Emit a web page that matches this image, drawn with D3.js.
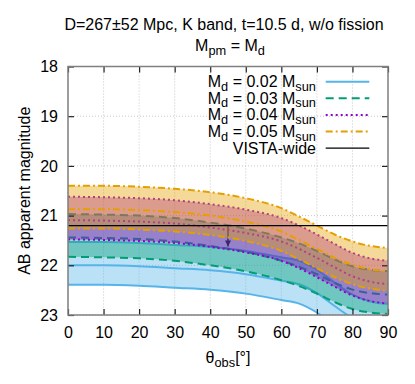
<!DOCTYPE html>
<html>
<head>
<meta charset="utf-8">
<script src="https://cdn.jsdelivr.net/npm/d3@7"></script>
<style>
  body { margin: 0; background: #fff; }
  svg text { font-family: "Liberation Sans", Arial, Helvetica, sans-serif; fill: #000; }
</style>
</head>
<body>
<div id="chart"></div>
<script>
// viewing angle (deg)
const theta = [0, 10, 20, 30, 40, 50, 60, 65, 70, 75, 80, 85, 90];

// AB magnitudes: bright edge (D=215), central (D=267), dim edge (D=319)
const md002Bright = [21.53, 21.53, 21.55, 21.59, 21.63, 21.71, 21.84, 21.91, 22.09, 22.35, 22.59, 22.73, 22.78];
const md002Mid    = [22.00, 22.00, 22.02, 22.06, 22.10, 22.18, 22.31, 22.38, 22.56, 22.82, 23.06, 23.20, 23.25];
const md002Dim    = [22.39, 22.39, 22.41, 22.45, 22.49, 22.57, 22.70, 22.77, 22.95, 23.21, 23.45, 23.59, 23.64];

const md003Bright = [20.97, 20.98, 21.00, 21.05, 21.14, 21.26, 21.44, 21.56, 21.71, 21.88, 22.02, 22.09, 22.12];
const md003Mid    = [21.44, 21.45, 21.47, 21.52, 21.61, 21.73, 21.91, 22.03, 22.18, 22.35, 22.49, 22.56, 22.59];
const md003Dim    = [21.83, 21.84, 21.86, 21.91, 22.00, 22.12, 22.30, 22.42, 22.57, 22.74, 22.88, 22.95, 22.98];

const md004Bright = [20.62, 20.63, 20.65, 20.69, 20.77, 20.88, 21.05, 21.20, 21.38, 21.57, 21.75, 21.86, 21.91];
const md004Mid    = [21.09, 21.10, 21.12, 21.16, 21.24, 21.35, 21.52, 21.67, 21.85, 22.04, 22.22, 22.33, 22.38];
const md004Dim    = [21.48, 21.49, 21.51, 21.55, 21.63, 21.74, 21.91, 22.06, 22.24, 22.43, 22.61, 22.72, 22.77];

const md005Bright = [20.40, 20.40, 20.42, 20.46, 20.53, 20.65, 20.85, 21.02, 21.20, 21.38, 21.52, 21.61, 21.65];
const md005Mid    = [20.87, 20.87, 20.89, 20.93, 21.00, 21.12, 21.32, 21.49, 21.67, 21.85, 21.99, 22.08, 22.12];
const md005Dim    = [21.26, 21.26, 21.28, 21.32, 21.39, 21.51, 21.71, 21.88, 22.06, 22.24, 22.38, 22.47, 22.51];

const vistaWide = 21.2;
// upper-limit arrow
const arrowTheta = 45;
const arrowFrom = 21.2;
const arrowTo = 21.62;

const xTicks = [0, 10, 20, 30, 40, 50, 60, 70, 80, 90];
const yTicks = [18, 19, 20, 21, 22, 23];

const models = [
  { md: "0.02", color: "#56b4e9", dash: null, bright: md002Bright, mid: md002Mid, dim: md002Dim },
  { md: "0.03", color: "#009e73", dash: "8,5", bright: md003Bright, mid: md003Mid, dim: md003Dim },
  { md: "0.04", color: "#9400d3", dash: "2,3", bright: md004Bright, mid: md004Mid, dim: md004Dim },
  { md: "0.05", color: "#e69f00", dash: "7,3,2,3", bright: md005Bright, mid: md005Mid, dim: md005Dim }
];

const W = 415, H = 384;
const margin = { top: 66.5, right: 27, bottom: 69, left: 68 };

const svg = d3.select("#chart").append("svg")
  .attr("width", W)
  .attr("height", H);

const x = d3.scaleLinear().domain([0, 90]).range([margin.left, W - margin.right]);
const y = d3.scaleLinear().domain([18, 23]).range([margin.top, H - margin.bottom]);

// grid
const grid = svg.append("g").attr("class", "grid");
grid.selectAll(".gx").data(xTicks).enter().append("line")
  .attr("x1", d => x(d)).attr("x2", d => x(d))
  .attr("y1", y(18)).attr("y2", y(23))
  .attr("stroke", "#b8b8b8").attr("stroke-width", 0.8).attr("stroke-dasharray", "1,2");
grid.selectAll(".gy").data(yTicks).enter().append("line")
  .attr("x1", x(0)).attr("x2", x(90))
  .attr("y1", d => y(d)).attr("y2", d => y(d))
  .attr("stroke", "#b8b8b8").attr("stroke-width", 0.8).attr("stroke-dasharray", "1,2");

svg.append("clipPath").attr("id", "clip")
  .append("rect")
  .attr("x", x(0)).attr("y", y(18))
  .attr("width", x(90) - x(0)).attr("height", y(23) - y(18));

const plot = svg.append("g").attr("clip-path", "url(#clip)");

// arrow drawn under the bands
svg.append("defs").append("marker")
  .attr("id", "head")
  .attr("viewBox", "0 0 10 10")
  .attr("refX", 10).attr("refY", 5)
  .attr("markerWidth", 4).attr("markerHeight", 4)
  .attr("orient", "auto")
  .append("path").attr("d", "M0,0L10,5L0,10Z").attr("fill", "#000");

plot.append("line")
  .attr("x1", x(arrowTheta)).attr("x2", x(arrowTheta))
  .attr("y1", y(arrowFrom)).attr("y2", y(arrowTo))
  .attr("stroke", "#000").attr("stroke-width", 1.5)
  .attr("marker-end", "url(#head)");

const area = (m) => d3.area()
  .x((d, i) => x(theta[i]))
  .y0((d, i) => y(m.bright[i]))
  .y1((d, i) => y(m.dim[i]))
  .curve(d3.curveMonotoneX);

const line = d3.line()
  .x((d, i) => x(theta[i]))
  .y(d => y(d))
  .curve(d3.curveMonotoneX);

models.forEach(m => {
  plot.append("path")
    .datum(theta)
    .attr("d", area(m))
    .attr("fill", m.color)
    .attr("fill-opacity", 0.4);

  [m.bright, m.mid, m.dim].forEach(s => {
    plot.append("path")
      .datum(s)
      .attr("d", line)
      .attr("fill", "none")
      .attr("stroke", m.color)
      .attr("stroke-width", 2)
      .attr("stroke-dasharray", m.dash);
  });
});

plot.append("line")
  .attr("x1", x(0)).attr("x2", x(90))
  .attr("y1", y(vistaWide)).attr("y2", y(vistaWide))
  .attr("stroke", "#000").attr("stroke-width", 1.3);

// axes with inward ticks
const tickStyle = g => {
  g.select(".domain").remove();
  g.selectAll(".tick line").attr("stroke", "#222").attr("stroke-width", 1.2);
  g.selectAll(".tick text").style("font-size", "16px").attr("fill", "#000");
};

svg.append("g")
  .attr("transform", `translate(0,${y(23)})`)
  .call(d3.axisBottom(x).tickValues(xTicks).tickSize(-6).tickPadding(11.5).tickFormat(d3.format("d")))
  .call(tickStyle);
svg.append("g")
  .attr("transform", `translate(0,${y(18)})`)
  .call(d3.axisTop(x).tickValues(xTicks).tickSize(-6).tickFormat(""))
  .call(tickStyle);
svg.append("g")
  .attr("transform", `translate(${x(0)},0)`)
  .call(d3.axisLeft(y).tickValues(yTicks).tickSize(-6).tickPadding(10).tickFormat(d3.format("d")))
  .call(tickStyle);
svg.append("g")
  .attr("transform", `translate(${x(90)},0)`)
  .call(d3.axisRight(y).tickValues(yTicks).tickSize(-6).tickFormat(""))
  .call(tickStyle);

svg.append("rect")
  .attr("x", x(0)).attr("y", y(18))
  .attr("width", x(90) - x(0)).attr("height", y(23) - y(18))
  .attr("fill", "none").attr("stroke", "#808080").attr("stroke-width", 1.5);

// title
svg.append("text")
  .attr("x", 224).attr("y", 30)
  .attr("text-anchor", "middle")
  .style("font-size", "16px")
  .text("D=267±52 Mpc, K band, t=10.5 d, w/o fission");

const t2 = svg.append("text")
  .attr("x", 230).attr("y", 50.5)
  .attr("text-anchor", "middle")
  .style("font-size", "16px");
t2.append("tspan").text("M");
t2.append("tspan").attr("dy", 4).style("font-size", "12.8px").text("pm");
t2.append("tspan").attr("dy", -4).text(" = M");
t2.append("tspan").attr("dy", 4).style("font-size", "12.8px").text("d");

// axis labels
svg.append("text")
  .attr("transform", `translate(30,${(y(18) + y(23)) / 2}) rotate(-90)`)
  .attr("text-anchor", "middle")
  .style("font-size", "16px")
  .text("AB apparent magnitude");

const xl = svg.append("text")
  .attr("x", 228).attr("y", 363)
  .attr("text-anchor", "middle")
  .style("font-size", "16px");
xl.append("tspan").text("θ");
xl.append("tspan").attr("dy", 4).style("font-size", "12.8px").text("obs");
xl.append("tspan").attr("dy", -4).text("[°]");

// legend
const legend = svg.append("g");
const legY0 = 81.7, legStep = 16.6;
const legTextX = 316, legL1 = 325.7, legL2 = 369.3;

models.forEach((m, i) => {
  const ly = legY0 + i * legStep;
  const t = legend.append("text")
    .attr("x", legTextX).attr("y", ly + 5.5)
    .attr("text-anchor", "end")
    .style("font-size", "16px");
  t.append("tspan").text("M");
  t.append("tspan").attr("dy", 3.5).style("font-size", "12.8px").text("d");
  t.append("tspan").attr("dy", -3.5).text(` = ${m.md} M`);
  t.append("tspan").attr("dy", 3.5).style("font-size", "12.8px").text("sun");
  legend.append("line")
    .attr("x1", legL1).attr("x2", legL2)
    .attr("y1", ly).attr("y2", ly)
    .attr("stroke", m.color).attr("stroke-width", 2)
    .attr("stroke-dasharray", m.dash);
});

const vy = legY0 + 4 * legStep;
legend.append("text")
  .attr("x", legTextX).attr("y", vy + 5.5)
  .attr("text-anchor", "end")
  .style("font-size", "16px")
  .text("VISTA-wide");
legend.append("line")
  .attr("x1", legL1).attr("x2", legL2)
  .attr("y1", vy).attr("y2", vy)
  .attr("stroke", "#000").attr("stroke-width", 1.3);
</script>
</body>
</html>
